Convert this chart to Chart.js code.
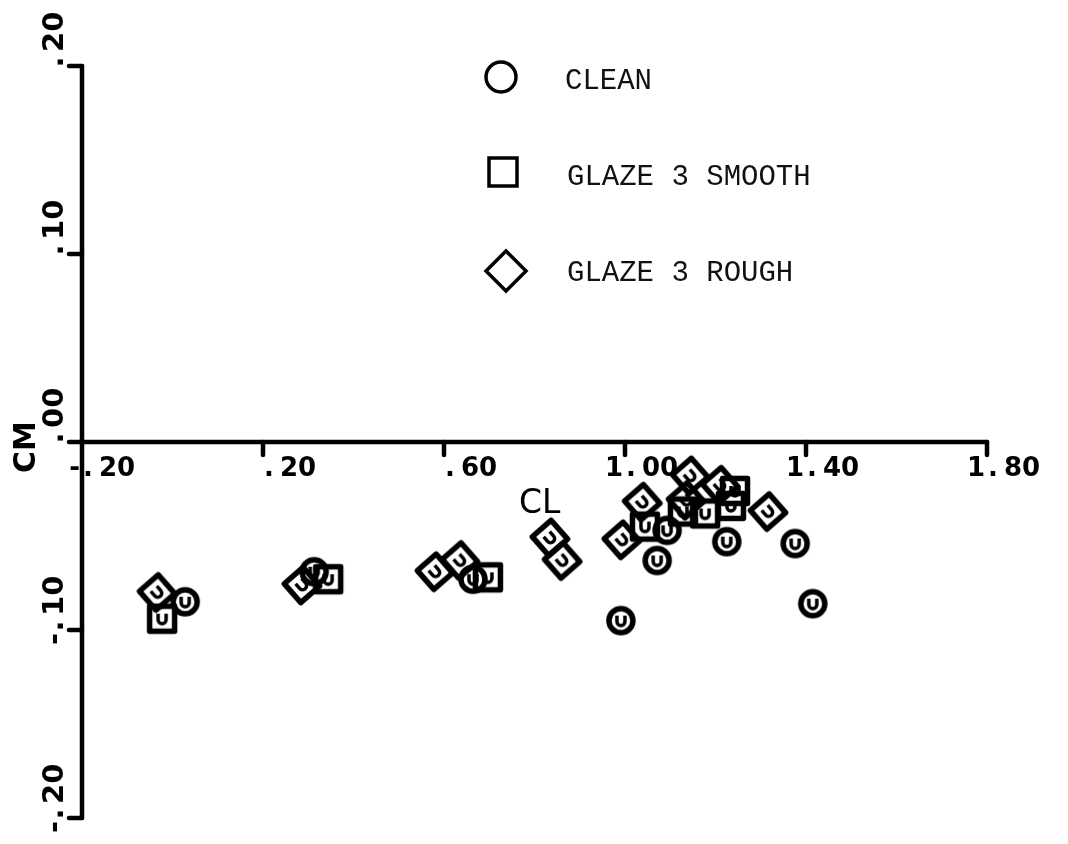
<!DOCTYPE html>
<html>
<head>
<meta charset="utf-8">
<script src="https://cdn.jsdelivr.net/npm/chart.js@4.4.1/dist/chart.umd.min.js"></script>
<style>
  body { margin: 0; background: #fff; }
  canvas { display: block; }
</style>
</head>
<body>
<canvas id="chart" width="1068" height="844"></canvas>
<script>
// CM vs CL, clean vs glaze ice shapes
const cleanCL  = [0.028, 0.313, 0.664, 0.991, 1.071, 1.093, 1.225, 1.376, 1.415];
const cleanCM  = [-0.085, -0.069, -0.073, -0.095, -0.063, -0.047, -0.053, -0.054, -0.086];

const smoothCL = [-0.023, 0.344, 0.697, 1.044, 1.128, 1.177, 1.234, 1.243];
const smoothCM = [-0.094, -0.073, -0.072, -0.045, -0.037, -0.038, -0.034, -0.026];

const roughCL  = [-0.034, 0.286, 0.580, 0.635, 0.834, 0.861, 0.993, 1.038, 1.144, 1.135, 1.210, 1.316];
const roughCM  = [-0.080, -0.076, -0.069, -0.063, -0.051, -0.063, -0.052, -0.032, -0.018, -0.031, -0.023, -0.037];

const seriesNames = ["CLEAN", "GLAZE 3 SMOOTH", "GLAZE 3 ROUGH"];

const xTicks = [-0.2, 0.2, 0.6, 1.0, 1.4, 1.8];
const xTickLabels = ["-.20", ".20", ".60", "1.00", "1.40", "1.80"];
const yTicks = [0.2, 0.1, 0.0, -0.1, -0.2];
const yTickLabels = [".20", ".10", ".00", "-.10", "-.20"];

// plotter style markers: thick outline with a little "U" mark inside
function makeMarker(shape, angle) {
  const s = 46;
  const c = document.createElement("canvas");
  c.width = s; c.height = s;
  const g = c.getContext("2d");
  g.translate(s / 2, s / 2);
  g.rotate(angle);
  g.strokeStyle = "#000";
  g.lineWidth = 5.5;
  g.lineJoin = "round";
  g.beginPath();
  if (shape === "circle") g.arc(0, 0, 12, 0, Math.PI * 2);
  else g.rect(-12.5, -12.5, 25, 25);
  g.stroke();
  g.lineWidth = 3.5;
  g.beginPath();
  g.moveTo(-4, -5);
  g.lineTo(-4, 1);
  g.arc(0, 1, 4, Math.PI, 0, true);
  g.lineTo(4, -5);
  g.stroke();
  return c;
}

const cleanImg = makeMarker("circle", 0);
const smoothImg = makeMarker("square", 0);
const roughImg = makeMarker("square", -0.72);

function pts(xs, ys) {
  return xs.map((x, i) => ({ x: x, y: ys[i] }));
}

// label split around the decimal point: prefix | "." | digits
function splitLabel(t) {
  const k = t.indexOf(".");
  return [t.slice(0, k), t.slice(k + 1)];
}

// axes, tick labels, titles and legend drawn by hand (plotter look)
const plotterAxes = {
  id: "plotterAxes",
  afterDraw(chart) {
    const ctx = chart.ctx;
    const xs = chart.scales.x, ys = chart.scales.y;
    const x0 = xs.getPixelForValue(-0.2);
    const y0 = ys.getPixelForValue(0);
    ctx.save();
    ctx.strokeStyle = "#000";
    ctx.fillStyle = "#000";
    ctx.lineCap = "round";

    // y axis
    ctx.lineWidth = 4.5;
    ctx.beginPath();
    ctx.moveTo(x0, ys.getPixelForValue(0.2));
    ctx.lineTo(x0, ys.getPixelForValue(-0.2));
    ctx.stroke();
    yTicks.forEach(v => {
      const py = ys.getPixelForValue(v);
      ctx.beginPath();
      ctx.moveTo(x0, py);
      ctx.lineTo(x0 - 13, py);
      ctx.stroke();
    });

    // x axis
    ctx.beginPath();
    ctx.moveTo(x0, y0);
    ctx.lineTo(xs.getPixelForValue(1.8), y0);
    ctx.stroke();
    xTicks.slice(1).forEach(v => {
      const px = xs.getPixelForValue(v);
      ctx.beginPath();
      ctx.moveTo(px, y0);
      ctx.lineTo(px, y0 + 13);
      ctx.stroke();
    });

    // x tick labels, decimal point sits just right of the tick
    ctx.font = "bold 26px 'DejaVu Sans'";
    ctx.textBaseline = "alphabetic";
    xTicks.forEach((v, i) => {
      const [pre, post] = splitLabel(xTickLabels[i]);
      const px = xs.getPixelForValue(v);
      const by = y0 + 34;
      ctx.textAlign = "right";
      ctx.fillText(pre, px - 2, by);
      ctx.textAlign = "center";
      ctx.fillText(".", px + 6, by);
      ctx.textAlign = "left";
      ctx.fillText(post, px + 17, by);
    });

    // y tick labels, rotated, reading upward
    ctx.font = "bold 29px 'DejaVu Sans'";
    yTicks.forEach((v, i) => {
      const [pre, post] = splitLabel(yTickLabels[i]);
      ctx.save();
      ctx.translate(x0 - 19, ys.getPixelForValue(v));
      ctx.rotate(-Math.PI / 2);
      ctx.textAlign = "right";
      ctx.fillText(pre, -3, 0);
      ctx.textAlign = "center";
      ctx.fillText(".", 4, 0);
      ctx.textAlign = "left";
      ctx.fillText(post, 14, 0);
      ctx.restore();
    });

    // axis titles
    ctx.save();
    ctx.font = "bold 30px 'DejaVu Sans'";
    ctx.translate(35, 447);
    ctx.rotate(-Math.PI / 2);
    ctx.textAlign = "center";
    ctx.fillText("CM", 0, 0);
    ctx.restore();

    ctx.font = "33px 'DejaVu Sans'";
    ctx.textAlign = "left";
    ctx.fillText("CL", 519, 513);

    // legend
    const lx = 503;
    const rows = [77, 172, 271];
    ctx.lineWidth = 3.5;
    ctx.lineJoin = "miter";
    ctx.beginPath();
    ctx.arc(lx - 2, rows[0], 15, 0, Math.PI * 2);
    ctx.stroke();
    ctx.strokeRect(lx - 14, rows[1] - 14, 28, 28);
    ctx.beginPath();
    ctx.moveTo(lx + 3, rows[2] - 20);
    ctx.lineTo(lx + 23, rows[2]);
    ctx.lineTo(lx + 3, rows[2] + 20);
    ctx.lineTo(lx - 17, rows[2]);
    ctx.closePath();
    ctx.stroke();

    ctx.font = "29px 'Liberation Mono'";
    ctx.fillStyle = "#111";
    ctx.fillText(seriesNames[0], 565, 89);
    ctx.fillText(seriesNames[1], 567, 185);
    ctx.fillText(seriesNames[2], 567, 281);
    ctx.restore();
  }
};

new Chart(document.getElementById("chart"), {
  type: "scatter",
  data: {
    datasets: [
      { label: seriesNames[0], data: pts(cleanCL, cleanCM), pointStyle: cleanImg, pointRadius: 14 },
      { label: seriesNames[1], data: pts(smoothCL, smoothCM), pointStyle: smoothImg, pointRadius: 14 },
      { label: seriesNames[2], data: pts(roughCL, roughCM), pointStyle: roughImg, pointRadius: 14 }
    ]
  },
  options: {
    responsive: false,
    animation: false,
    devicePixelRatio: 1,
    layout: { padding: { left: 82, right: 81, top: 66, bottom: 26 } },
    plugins: { legend: { display: false }, tooltip: { enabled: false } },
    scales: {
      x: { type: "linear", min: -0.2, max: 1.8, display: false },
      y: { type: "linear", min: -0.2, max: 0.2, display: false }
    }
  },
  plugins: [plotterAxes]
});
</script>
</body>
</html>
